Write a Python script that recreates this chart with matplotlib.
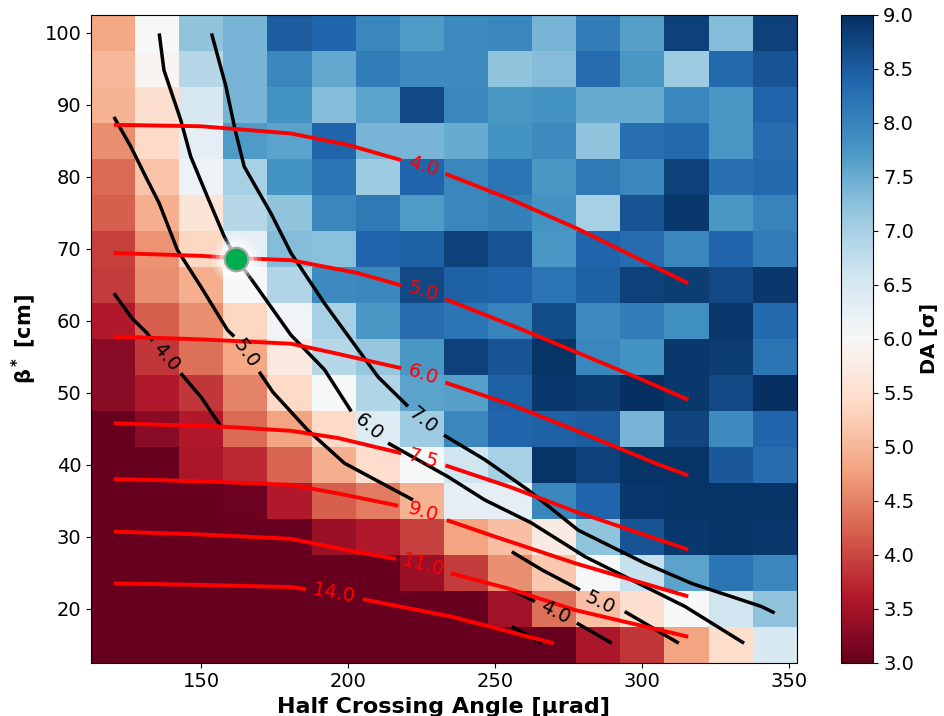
import numpy as np
import matplotlib
matplotlib.use('Agg')
import matplotlib.pyplot as plt

nan = np.nan

# half crossing angle [urad] (cell centres) and beta* [cm] (top row first)
angles = [120, 135, 150, 165, 180, 195, 210, 225, 240, 255, 270, 285, 300, 315, 330, 345]
betas = [100, 95, 90, 85, 80, 75, 70, 65, 60, 55, 50, 45, 40, 35, 30, 25, 20, 15]

# dynamic aperture [sigma], one list per beta* row
da_100 = [4.85, 6.0, 7.2, 7.4, 8.5, 8.4, 7.95, 7.7, 7.9, 7.95, 7.4, 8.1, 7.65, 8.8, 7.3, 8.8]
da_95 = [5.0, 5.95, 6.85, 7.4, 7.95, 7.55, 8.1, 7.9, 7.9, 7.2, 7.3, 8.3, 7.75, 7.1, 8.35, 8.6]
da_90 = [4.95, 5.5, 6.5, 7.4, 7.8, 7.3, 7.6, 8.7, 7.95, 7.75, 7.8, 7.5, 7.5, 7.95, 7.75, 8.4]
da_85 = [4.6, 5.4, 6.3, 7.7, 7.6, 8.4, 7.4, 7.4, 7.5, 7.8, 7.9, 7.2, 8.25, 8.35, 7.75, 8.3]
da_80 = [4.3, 5.15, 6.15, 7.0, 7.8, 8.2, 7.1, 8.4, 7.95, 8.2, 7.75, 8.15, 7.95, 8.8, 8.25, 8.35]
da_75 = [4.2, 4.9, 5.6, 6.85, 7.2, 7.95, 8.15, 7.7, 7.95, 8.05, 7.8, 7.0, 8.6, 8.9, 7.75, 8.0]
da_70 = [3.95, 4.65, 5.35, 6.3, 7.3, 7.25, 8.4, 8.45, 8.8, 8.6, 7.75, 8.4, 8.3, 7.95, 8.4, 8.1]
da_65 = [3.9, 4.6, 4.9, 6.0, 6.9, 7.9, 7.95, 8.7, 8.45, 8.4, 8.2, 8.45, 8.8, 8.85, 8.7, 8.9]
da_60 = [3.6, 4.2, 4.6, 5.35, 6.1, 7.0, 7.75, 8.3, 8.2, 8.0, 8.65, 7.9, 8.1, 7.85, 8.9, 8.35]
da_55 = [3.3, 3.85, 4.35, 4.85, 5.7, 6.85, 7.15, 7.75, 8.8, 8.6, 8.95, 7.95, 7.8, 8.9, 8.85, 8.2]
da_50 = [3.3, 3.6, 3.85, 4.5, 5.4, 6.0, 6.9, 7.6, 7.65, 8.45, 8.9, 8.85, 9.0, 8.9, 8.7, 9.0]
da_45 = [3.0, 3.3, 3.6, 4.3, 4.8, 5.4, 6.4, 7.1, 7.95, 8.4, 8.45, 8.5, 7.4, 8.75, 7.9, 8.4]
da_40 = [3.0, 3.0, 3.55, 3.75, 4.25, 4.9, 5.45, 6.0, 6.6, 7.0, 8.95, 8.8, 8.95, 8.95, 8.55, 8.3]
da_35 = [3.0, 3.0, 3.0, 3.05, 3.6, 4.2, 4.45, 4.95, 6.3, 6.3, 7.95, 8.4, 8.9, 8.95, 8.95, 8.95]
da_30 = [3.0, 3.0, 3.0, 3.0, 3.0, 3.4, 3.6, 3.95, 4.8, 5.1, 5.75, 7.2, 8.6, 8.9, 8.95, 8.9]
da_25 = [3.0, 3.0, 3.0, 3.0, 3.0, 3.0, 3.0, 3.4, 3.9, 4.6, 5.2, 6.0, 6.7, 7.6, 8.2, 7.95]
da_20 = [3.0, 3.0, 3.0, 3.0, 3.0, 3.0, 3.0, 3.0, 3.0, 3.45, 4.35, 5.1, 5.5, 6.0, 6.6, 7.2]
da_15 = [3.0, 3.0, 3.0, 3.0, 3.0, 3.0, 3.0, 3.0, 3.0, 3.0, 3.0, 3.55, 3.85, 4.8, 5.45, 6.5]

# red contour lines, nan = gap for the label
red_levels = ['4.0', '5.0', '6.0', '7.5', '9.0', '11.0', '14.0']
red_x = [
    [120.3, 150, 180.5, 200, 218, nan, 233, 255.6, 278.3, 315.6],
    [120.3, 150, 162, 180.5, 203.3, 218, nan, 233, 259.5, 278.3, 300, 315.6],
    [120.3, 150, 180.5, 195.3, 218, nan, 233, 255.6, 277.2, 304.4, 315.6],
    [120.3, 156.7, 180.5, 196.5, 218, nan, 233, 255, 277.2, 315.6],
    [120.3, 150, 180.5, 196.5, 217, nan, 233.5, 249.9, 277.2, 315.6],
    [120.3, 150, 180.5, 198.7, 216.3, nan, 234.9, 254.4, 277.2, 315.6],
    [120.3, 150, 180.5, 185.5, nan, 205, 235, 269.8],
]
red_y = [
    [87.2, 87.0, 86.0, 84.4, 82.3, nan, 80.4, 76.8, 72.7, 65.2],
    [69.4, 69.0, 68.7, 68.4, 66.6, 64.9, nan, 63.0, 58.7, 55.5, 51.8, 49.0],
    [57.8, 57.4, 56.8, 55.5, 53.4, nan, 51.4, 48.3, 44.8, 40.2, 38.5],
    [45.75, 45.3, 44.7, 43.7, 41.6, nan, 39.9, 36.9, 33.5, 28.2],
    [38.0, 37.7, 37.2, 36.0, 34.3, nan, 32.3, 30.0, 26.3, 21.7],
    [30.7, 30.3, 29.7, 28.2, 26.9, nan, 24.9, 22.8, 19.8, 16.1],
    [23.5, 23.3, 23.0, 22.7, nan, 21.3, 18.9, 15.2],
]
red_lab = [(225.4, 81.5), (225.4, 64.1), (225.4, 52.5), (225.4, 40.8), (225.5, 33.4), (225.6, 26.0), (195.2, 22.1)]

# black contour lines
black_levels = ['4.0', '5.0', '6.0', '7.0', '5.0', '4.0', '']
black_x = [
    [120.3, 126.5, 131.5, 133.5, nan, 143, 149.9, 156.7],
    [120.3, 126.0, 131.1, 135.7, 141.9, 149.9, 158.9, 161.2, nan, 169.7, 174.3, 186.2, 198.7, 222],
    [135.7, 137.3, 143, 146.4, 152.1, 157.8, 161.8, 168, 180.5, 191.9, 201, nan,
     213.5, 234, 246.4, 262.3, 280.6, 296.3, 314.5, 334.6],
    [153.5, 158.4, 161.5, 164.6, 173.7, 180.5, 191.9, 201, 210.1, 220.3, nan,
     232.5, 246.4, 261.1, 278.2, 300.9, 316.8, 340.5, 345],
    [255.6, 265.8, 278.8, nan, 294, 312.4],
    [255.6, 263.5, nan, 277.7, 289.6],
    [255.6, 265.8],
]
black_y = [
    [63.8, 60.3, 58.3, 57.2, nan, 52.7, 49.4, 45.3],
    [88.3, 84.2, 80.0, 76.3, 69.8, 64.7, 58.7, 57.8, nan, 52.9, 50.1, 44.8, 40.2, 35.1],
    [99.9, 94.8, 87.9, 82.8, 77.2, 71.7, 68.7, 65.2, 58.0, 53.2, 47.4, nan,
     43.0, 38.3, 35.1, 31.9, 27.2, 24.0, 20.3, 15.2],
    [99.9, 92.5, 86.5, 81.4, 74.9, 69.4, 62.4, 57.3, 52.2, 48.1, nan,
     44.1, 40.7, 36.5, 30.9, 26.3, 23.5, 20.3, 19.4],
    [27.9, 25.4, 22.6, nan, 19.6, 15.2],
    [22.6, 21.0, nan, 18.0, 15.2],
    [17.5, 15.2],
]
black_lab = [(138.2, 55.0), (165.2, 55.5), (207.0, 45.3), (225.5, 46.2), (285.7, 20.8), (270.3, 19.5), None]

# working point
wp_angle = 161.8
wp_beta = 68.6

da = np.array([da_100, da_95, da_90, da_85, da_80, da_75, da_70, da_65, da_60,
               da_55, da_50, da_45, da_40, da_35, da_30, da_25, da_20, da_15])

fig = plt.figure(figsize=(9.44, 7.16), dpi=100)
ax = fig.add_axes([0.0964, 0.0745, 0.7476, 0.905])
cax = fig.add_axes([0.8906, 0.0745, 0.0345, 0.905])

pc = ax.pcolormesh(angles, betas, da, cmap='RdBu', vmin=3, vmax=9, shading='nearest')
ax.set_xlim(112.5, 352.5)
ax.set_ylim(12.5, 102.5)


def put_label(x, y, xs, ys, text, color):
    # rotate label along the line around its gap
    i = int(np.where(np.isnan(xs))[0][0])
    p0 = ax.transData.transform((xs[i - 1], ys[i - 1]))
    p1 = ax.transData.transform((xs[i + 1], ys[i + 1]))
    rot = np.degrees(np.arctan2(p1[1] - p0[1], p1[0] - p0[0]))
    ax.text(x, y, text, color=color, fontsize=14, rotation=rot,
            rotation_mode='anchor', ha='center', va='center')


for xs, ys, lev, pos in zip(black_x, black_y, black_levels, black_lab):
    xs = np.array(xs, dtype=float)
    ys = np.array(ys, dtype=float)
    ax.plot(xs, ys, color='black', lw=2.5, solid_capstyle='butt')
    if pos is not None:
        put_label(pos[0], pos[1], xs, ys, lev, 'black')

for xs, ys, lev, pos in zip(red_x, red_y, red_levels, red_lab):
    xs = np.array(xs, dtype=float)
    ys = np.array(ys, dtype=float)
    ax.plot(xs, ys, color='red', lw=2.8, solid_capstyle='butt')
    put_label(pos[0], pos[1], xs, ys, lev, 'red')

# glowing marker for the working point
for ms, al in [(36, 0.2), (30, 0.3), (25, 0.45)]:
    ax.plot(wp_angle, wp_beta, 'o', ms=ms, color='white', alpha=al, mew=0)
ax.plot(wp_angle, wp_beta, 'o', ms=17, mfc='#00ad4f', mec='#a8a8a8', mew=1.5)

ax.tick_params(labelsize=14)
ax.set_xlabel('Half Crossing Angle [μrad]', fontsize=16, fontweight='bold')
ax.set_ylabel(r'$\mathbf{\beta^*}$ [cm]', fontsize=15, fontweight='bold')

cb = fig.colorbar(pc, cax=cax, ticks=[3.0, 3.5, 4.0, 4.5, 5.0, 5.5, 6.0, 6.5, 7.0, 7.5, 8.0, 8.5, 9.0])
cb.ax.set_yticklabels(['%.1f' % t for t in cb.get_ticks()])
cb.ax.tick_params(labelsize=14)
cb.set_label('DA [σ]', fontsize=14, fontweight='bold')

fig.savefig('out.png', dpi=100)
